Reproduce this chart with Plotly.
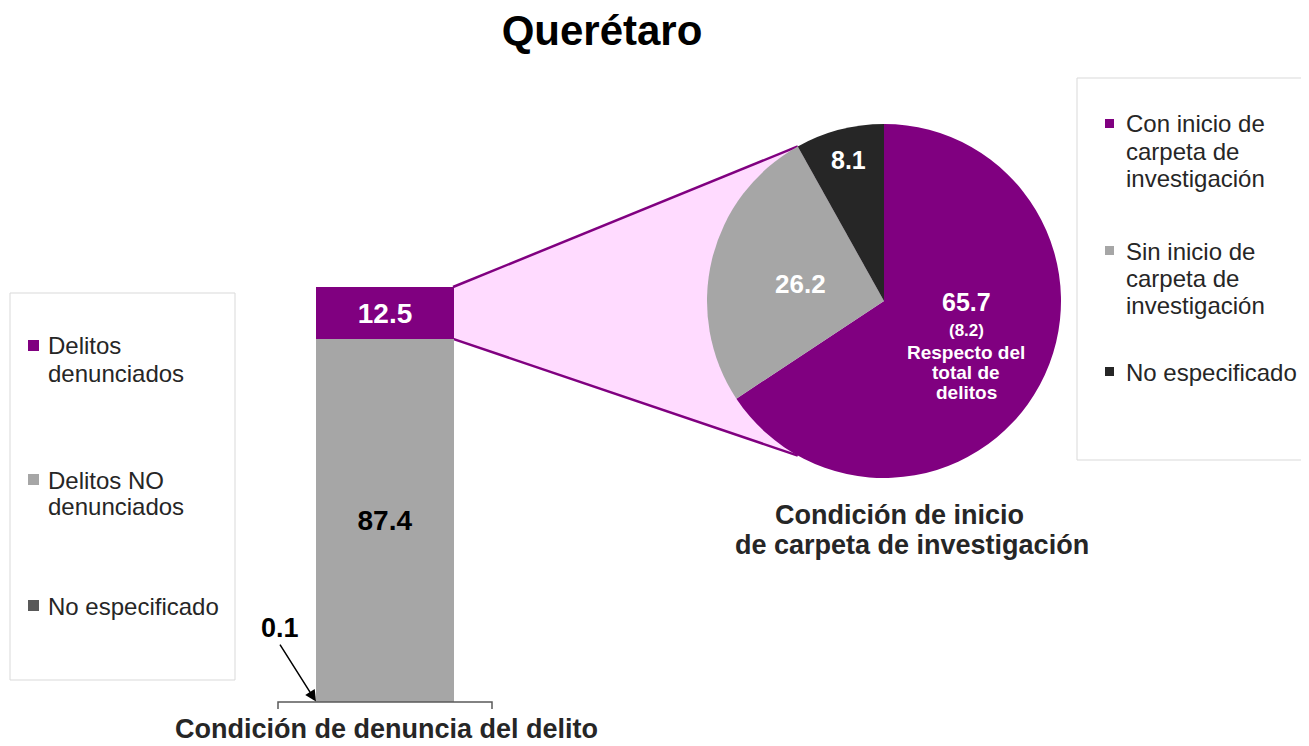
import math
import plotly.graph_objects as go

W, H = 1309, 746
OFF = 8  # page body margin in the browser
FW, FH = W - OFF, H - OFF
FONT = "Arial, 'Liberation Sans', sans-serif"

# ---------------- data ----------------
bar_categories = ["No especificado", "Delitos NO denunciados", "Delitos denunciados"]
bar_values = [0.1, 87.4, 12.5]
bar_colors = ["#595959", "#A6A6A6", "#800080"]
bar_legend_labels = ["Delitos<br>denunciados", "Delitos NO<br>denunciados", "No especificado"]

pie_labels = ["Con inicio de carpeta de investigación",
              "Sin inicio de carpeta de investigación",
              "No especificado"]
pie_legend_labels = ["Con inicio de<br>carpeta de<br>investigación",
                     "Sin inicio de<br>carpeta de<br>investigación",
                     "No especificado"]
pie_values = [65.7, 26.2, 8.1]
pie_colors = ["#800080", "#A6A6A6", "#262626"]
pie_share_total = 8.2  # respecto del total de delitos

title_text = "Querétaro"
bar_axis_title = "Condición de denuncia del delito"
pie_title_lines = ["Condición de inicio", "de carpeta de investigación"]

# ---------------- layout geometry (page pixels) ----------------
AX_L, AX_R = 278, 492          # bar axis extent
AX_BOTTOM, AX_TOP = 702, 287   # value 0 and value 100
BAR_WIDTH = 0.645              # in axis units (range -0.5..0.5)
PIE_CX, PIE_CY, PIE_R = 884, 301, 177


def px(x):
    return (x - OFF) / FW


def py(y):
    return 1 - (y - OFF) / FH


def bar_y_to_px(v):
    return AX_BOTTOM - (v / 100.0) * (AX_BOTTOM - AX_TOP)


fig = go.Figure()

# stacked bar
for cat, val, col in zip(bar_categories, bar_values, bar_colors):
    show_text = val >= 1
    txtcol = "#FFFFFF" if col == "#800080" else "#000000"
    fig.add_trace(go.Bar(
        x=[0], y=[val], name=cat, marker=dict(color=col, line=dict(width=0)),
        width=BAR_WIDTH,
        texttemplate="<b>%{y:.1f}</b>" if show_text else "",
        textposition="inside" if show_text else "none",
        insidetextanchor="middle", textangle=0, constraintext="none",
        textfont=dict(family=FONT, size=28, color=txtcol),
        showlegend=False, hoverinfo="name+y",
    ))

# pie
fig.add_trace(go.Pie(
    labels=pie_labels, values=pie_values, sort=False, direction="clockwise",
    rotation=0, marker=dict(colors=pie_colors, line=dict(width=0)),
    textinfo="none", showlegend=False,
    domain=dict(x=[px(PIE_CX - PIE_R), px(PIE_CX + PIE_R)],
                y=[py(PIE_CY + PIE_R), py(PIE_CY - PIE_R)]),
))

fig.update_layout(
    width=FW, height=FH, margin=dict(l=0, r=0, t=0, b=0),
    paper_bgcolor="white", plot_bgcolor="rgba(0,0,0,0)",
    barmode="stack", bargap=0,
    xaxis=dict(domain=[px(AX_L), px(AX_R)], range=[-0.5, 0.5], visible=False,
               fixedrange=True),
    yaxis=dict(domain=[py(AX_BOTTOM), py(AX_TOP)], range=[0, 100], visible=False,
               fixedrange=True),
    font=dict(family=FONT, color="#262626"),
    title=dict(text="<b>" + title_text + "</b>", x=px(602), y=py(30),
               xanchor="center", yanchor="middle",
               font=dict(family=FONT, size=42, color="#000000")),
)

shapes = []
# connector (pie-of-bar) region
bar_right_px = (AX_L + AX_R) / 2 + BAR_WIDTH / 2 * (AX_R - AX_L)
top_y = bar_y_to_px(sum(bar_values))
low_y = bar_y_to_px(sum(bar_values[:2]))
theta = math.radians(360 * (pie_values[0] + pie_values[1]) / sum(pie_values))
ux = PIE_CX + PIE_R * math.sin(theta)
uy = PIE_CY - PIE_R * math.cos(theta)
lx, ly = ux, 2 * PIE_CY - uy
path = (f"M {px(bar_right_px)},{py(top_y)} L {px(ux)},{py(uy)} "
        f"L {px(PIE_CX)},{py(PIE_CY)} L {px(lx)},{py(ly)} "
        f"L {px(bar_right_px)},{py(low_y)} Z")
shapes.append(dict(type="path", path=path, xref="paper", yref="paper",
                   fillcolor="#FFDBFF", line=dict(width=0), layer="below"))
for (x1, y1) in [(ux, uy), (lx, ly)]:
    y0 = top_y if y1 < PIE_CY else low_y
    shapes.append(dict(type="line", xref="paper", yref="paper",
                       x0=px(bar_right_px - 1), y0=py(y0), x1=px(x1), y1=py(y1),
                       line=dict(color="#800080", width=2.5), layer="below"))

# bar axis bracket
shapes.append(dict(type="path", xref="paper", yref="paper",
                   path=(f"M {px(AX_L)},{py(AX_BOTTOM + 7)} L {px(AX_L)},{py(AX_BOTTOM)} "
                         f"L {px(AX_R)},{py(AX_BOTTOM)} L {px(AX_R)},{py(AX_BOTTOM + 7)}"),
                   line=dict(color="#595959", width=1.5)))

# legend boxes
shapes.append(dict(type="rect", xref="paper", yref="paper",
                   x0=px(10), x1=px(235), y0=py(680), y1=py(293),
                   line=dict(color="#D9D9D9", width=1), fillcolor="white", layer="below"))
shapes.append(dict(type="rect", xref="paper", yref="paper",
                   x0=px(1077), x1=px(1307), y0=py(460), y1=py(78),
                   line=dict(color="#D9D9D9", width=1), fillcolor="white", layer="below"))

annotations = []


def add_text(x, y, text, size, color="#262626", bold=False, anchor="left"):
    t = f"<b>{text}</b>" if bold else text
    annotations.append(dict(x=px(x), y=py(y), xref="paper", yref="paper",
                            text=t, showarrow=False, xanchor=anchor, yanchor="middle",
                            font=dict(family=FONT, size=size, color=color)))


# left legend (bar series, top to bottom)
left_items = [(bar_legend_labels[0], bar_colors[2], 346),
              (bar_legend_labels[1], bar_colors[1], 480),
              (bar_legend_labels[2], bar_colors[0], 606)]
for label, col, y0 in left_items:
    shapes.append(dict(type="rect", xref="paper", yref="paper",
                       x0=px(28), x1=px(39), y0=py(y0 + 5), y1=py(y0 - 6),
                       fillcolor=col, line=dict(width=0)))
    for i, line in enumerate(label.split("<br>")):
        add_text(46, y0 + i * 27, line, 24)

# right legend (pie slices)
right_pos = [124, 251, 372]
for label, col, y0 in zip(pie_legend_labels, pie_colors, right_pos):
    shapes.append(dict(type="rect", xref="paper", yref="paper",
                       x0=px(1105), x1=px(1114), y0=py(y0 + 4), y1=py(y0 - 5),
                       fillcolor=col, line=dict(width=0)))
    for i, line in enumerate(label.split("<br>")):
        add_text(1124, y0 + i * 27, line, 24)

# pie labels
add_text(848, 160, f"{pie_values[2]:.1f}", 25, "#FFFFFF", True, "center")
add_text(800, 284, f"{pie_values[1]:.1f}", 26, "#FFFFFF", True, "center")
add_text(966, 302, f"{pie_values[0]:.1f}", 25, "#FFFFFF", True, "center")
add_text(966, 330, f"({pie_share_total:.1f})", 17, "#FFFFFF", True, "center")
for i, line in enumerate(["Respecto del", "total de", "delitos"]):
    add_text(966, 352 + i * 20, line, 19, "#FFFFFF", True, "center")

# pie title
pie_title_cx = [899, 912]
for i, line in enumerate(pie_title_lines):
    add_text(pie_title_cx[i], 515 + i * 30, line, 27, "#262626", True, "center")

# bar axis title
add_text(386, 729, bar_axis_title, 27, "#262626", True, "center")

# small value annotation with arrow
annotations.append(dict(
    x=-0.5 + (1 - BAR_WIDTH) / 2, y=bar_values[0], xref="x", yref="y",
    text=f"<b>{bar_values[0]:.1f}</b>", showarrow=True, arrowhead=2, arrowsize=1.5,
    arrowwidth=1.5, arrowcolor="#000000", ax=-36, ay=-57,
    xanchor="center", yanchor="bottom",
    font=dict(family=FONT, size=27, color="#000000"),
    standoff=0,
))

fig.update_layout(shapes=shapes, annotations=annotations)
fig.write_html("out.html")
